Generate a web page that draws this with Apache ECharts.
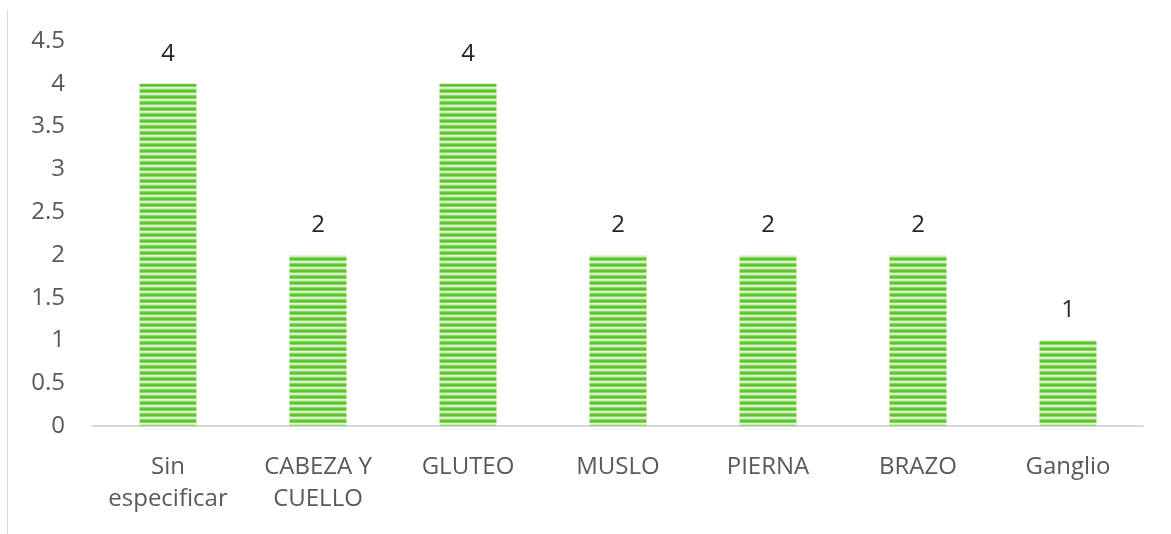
<!DOCTYPE html>
<html><head><meta charset="utf-8">
<script src="https://cdn.jsdelivr.net/npm/echarts@6/dist/echarts.min.js"></script>
<style>html,body{margin:0;padding:0;background:#fff}#c{width:1171px;height:534px}</style>
</head><body><div id="c"></div>
<script>
var categories = ['Sin\nespecificar', 'CABEZA Y\nCUELLO', 'GLUTEO', 'MUSLO', 'PIERNA', 'BRAZO', 'Ganglio'];
var values = [4, 2, 4, 2, 2, 2, 1];
var yTicks = {min: 0, max: 4.5, interval: 0.5};

var pc = document.createElement('canvas');
pc.width = 4; pc.height = 6;
var ctx = pc.getContext('2d');
var rows = ['#60c832', '#58c228', '#8ad665', '#e3f5d6', '#cdedbb', '#8ed86a'];
rows.forEach(function (c, i) { ctx.fillStyle = c; ctx.fillRect(0, i, 4, 1); });

var FONT = 'Open Sans';
var chart = echarts.init(document.getElementById('c'));
chart.setOption({
  animation: false,
  grid: {left: 93, right: 28, top: 41, bottom: 108},
  graphic: [{type: 'line', shape: {x1: 7.5, y1: 10, x2: 7.5, y2: 534}, style: {stroke: '#d9d9d9', lineWidth: 1}}],
  xAxis: {
    type: 'category', data: categories,
    axisLine: {lineStyle: {color: '#d9d9d9', width: 2}},
    axisTick: {show: false},
    axisLabel: {color: '#595959', fontFamily: FONT, fontSize: 24, lineHeight: 32, margin: 25, interval: 0}
  },
  yAxis: {
    type: 'value', min: yTicks.min, max: yTicks.max, interval: yTicks.interval,
    splitLine: {show: false}, axisLine: {show: false}, axisTick: {show: false},
    axisLabel: {color: '#595959', fontFamily: FONT, fontSize: 24, margin: 28}
  },
  series: [{
    type: 'bar', data: values, barWidth: 57,
    itemStyle: {color: {image: pc, repeat: 'repeat'}},
    label: {show: true, position: 'top', distance: 18, color: '#262626', fontFamily: FONT, fontSize: 24}
  }]
});
</script></body></html>
